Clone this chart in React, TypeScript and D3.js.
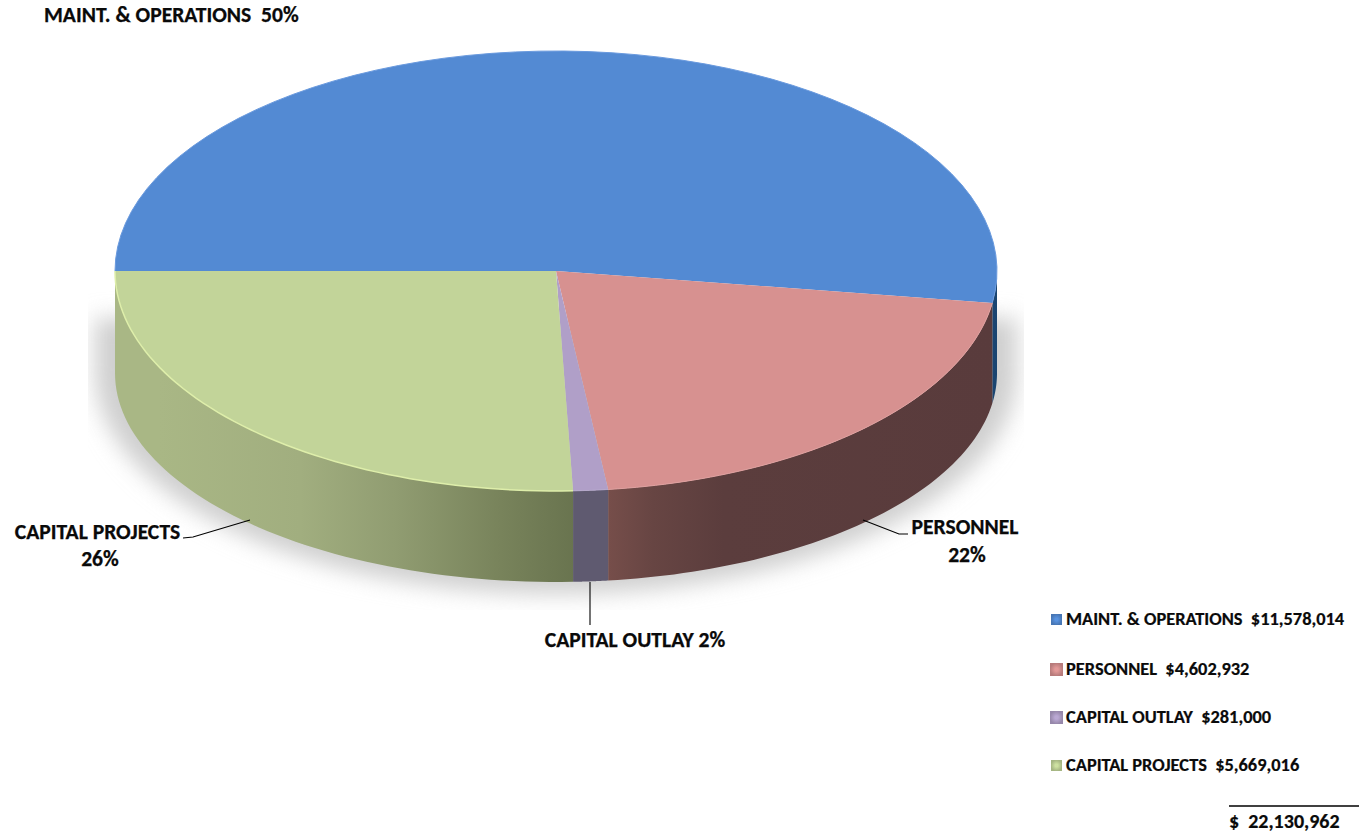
import React from "react";
import * as d3 from "d3";

const categories = ["MAINT. & OPERATIONS", "PERSONNEL", "CAPITAL OUTLAY", "CAPITAL PROJECTS"];
const amounts = [11578014, 4602932, 281000, 5669016];
const amountLabels = ["$11,578,014", "$4,602,932", "$281,000", "$5,669,016"];
const totalLabel = "22,130,962";
const topColors = ["#538ad3", "#d79190", "#b09fc8", "#c2d499"];
const rimColors = ["#6a9ade", "#e0a09f", "#bcaed3", "#deeeaa"];
const chipSizes = [11, 13, 13, 11];
const wallStops: [number, string][][] = [
  [[0.96, "#1f4d7c"], [1, "#1a4470"]],
  [[0.56, "#764e4a"], [0.61, "#674543"], [0.69, "#5b3d3d"], [1, "#593b3c"]],
  [[0.52, "#5f5a70"], [0.56, "#5f5a70"]],
  [[0.05, "#a9b785"], [0.21, "#a1ae7f"], [0.32, "#909c71"], [0.437, "#78835b"], [0.52, "#69744f"]],
];

const W = 1359, H = 835;
const cx = 556, cyTop = 271, rx = 441, ryTop = 220;
const cyBottom = 373, ryBottom = 209;
const font = "Carlito, Lato, 'Open Sans', sans-serif";

const arcs = d3.pie<number>().sort(null).startAngle(-Math.PI / 2).endAngle(1.5 * Math.PI)(amounts);
const xs = d3.scaleLinear().domain([-1, 1]).range([cx - rx, cx + rx]);
const yTop = d3.scaleLinear().domain([-1, 1]).range([cyTop - ryTop, cyTop + ryTop]);
const yBot = d3.scaleLinear().domain([-1, 1]).range([cyBottom - ryBottom, cyBottom + ryBottom]);

const sample = (a0: number, a1: number) => d3.range(0, 61).map((i) => a0 + ((a1 - a0) * i) / 60);
const rim = d3.line<number>().x((a) => xs(Math.sin(a))).y((a) => yTop(-Math.cos(a)));

function topPath(a0: number, a1: number) {
  return `M${cx},${cyTop}L` + (rim(sample(a0, a1)) as string).slice(1) + "Z";
}
function wallPath(a0: number, a1: number) {
  const lo = Math.max(a0, Math.PI / 2);
  const hi = Math.min(a1, 1.5 * Math.PI);
  if (hi <= lo) return "";
  const pts = sample(lo, hi);
  const t = pts.map((a) => `${xs(Math.sin(a))},${yTop(-Math.cos(a))}`);
  const b = [...pts].reverse().map((a) => `${xs(Math.sin(a))},${yBot(-Math.cos(a))}`);
  return "M" + t.join("L") + "L" + b.join("L") + "Z";
}
const shadowPath = (() => {
  const lower = sample(Math.PI / 2, 1.5 * Math.PI);
  const sx = 1.045;
  const pts = lower.map((a) => `${cx + rx * sx * Math.sin(a)},${cyBottom + 221 * -Math.cos(a)}`);
  return `M${cx + rx * sx},318L` + pts.join("L") + `L${cx - rx * sx},318Z`;
})();

const legendBase = [625, 675, 723, 771];
const leaders = ["M183,538 L193,537 L250,520", "M863,520 L899,534 L908,534", "M590,582 L590,625"];

export default function App() {
  return (
    <svg width={W} height={H} style={{ position: "absolute", left: 0, top: 0, background: "#fff" }} fontFamily={font}>
      <defs>
        <filter id="soft" x="-10%" y="-15%" width="120%" height="130%">
          <feGaussianBlur stdDeviation="11" />
        </filter>
        <clipPath id="shadowClip">
          <rect x={88} y={260} width={936} height={350} />
        </clipPath>
        {wallStops.map((stops, i) => (
          <linearGradient key={i} id={`wall${i}`} gradientUnits="userSpaceOnUse" x1={xs(-1)} x2={xs(1)} y1={0} y2={0}>
            {stops.map(([o, c], j) => (
              <stop key={j} offset={o} stopColor={c} />
            ))}
          </linearGradient>
        ))}
        {topColors.map((c, i) => (
          <radialGradient key={i} id={`chip${i}`}>
            <stop offset="0.25" stopColor={d3.color(c)!.brighter(0.15).formatHex()} />
            <stop offset="1" stopColor={d3.color(c)!.darker(0.45).formatHex()} />
          </radialGradient>
        ))}
      </defs>

      <g clipPath="url(#shadowClip)">
        <path d={shadowPath} fill="#cfcfcf" filter="url(#soft)" />
      </g>

      {arcs.map((a, i) => (
        <path key={`w${i}`} d={wallPath(a.startAngle, a.endAngle)} fill={`url(#wall${i})`} />
      ))}
      {arcs.map((a, i) => (
        <path key={`t${i}`} d={topPath(a.startAngle, a.endAngle)} fill={topColors[i]} />
      ))}
      {arcs.map((a, i) => (
        <path
          key={`r${i}`}
          d={rim(sample(a.startAngle, a.endAngle)) as string}
          fill="none"
          stroke={rimColors[i]}
          strokeWidth={i === 3 ? 1.5 : 1}
        />
      ))}

      {leaders.map((d, i) => (
        <path key={i} d={d} fill="none" stroke="#000" strokeWidth={1.1} />
      ))}

      <g fontWeight={700} fill="#0a0a0a" fontSize={21.6} stroke="#0a0a0a" strokeWidth={0.25}>
        <text x={44} y={22} xmlSpace="preserve">{"MAINT. & OPERATIONS  50%"}</text>
        <text x={97.5} y={539} textAnchor="middle">CAPITAL PROJECTS</text>
        <text x={100} y={566} textAnchor="middle">26%</text>
        <text x={965} y={534} textAnchor="middle">PERSONNEL</text>
        <text x={967} y={562} textAnchor="middle">22%</text>
        <text x={635} y={647} textAnchor="middle">CAPITAL OUTLAY 2%</text>
      </g>

      {categories.map((c, i) => (
        <g key={c}>
          <rect
            x={1056.5 - chipSizes[i] / 2}
            y={legendBase[i] - 5.5 - chipSizes[i] / 2}
            width={chipSizes[i]}
            height={chipSizes[i]}
            fill={`url(#chip${i})`}
          />
          <text x={1066} y={legendBase[i]} fontSize={18.4} fontWeight={700} fill="#0a0a0a" stroke="#0a0a0a" strokeWidth={0.2} xmlSpace="preserve">
            {`${c}  ${amountLabels[i]}`}
          </text>
        </g>
      ))}
      <line x1={1229} x2={1359} y1={806} y2={806} stroke="#000" strokeWidth={1.3} />
      <text x={1229} y={828} fontSize={20} fontWeight={700} fill="#0a0a0a" stroke="#0a0a0a" strokeWidth={0.2} xmlSpace="preserve">{`$  ${totalLabel}`}</text>
    </svg>
  );
}
